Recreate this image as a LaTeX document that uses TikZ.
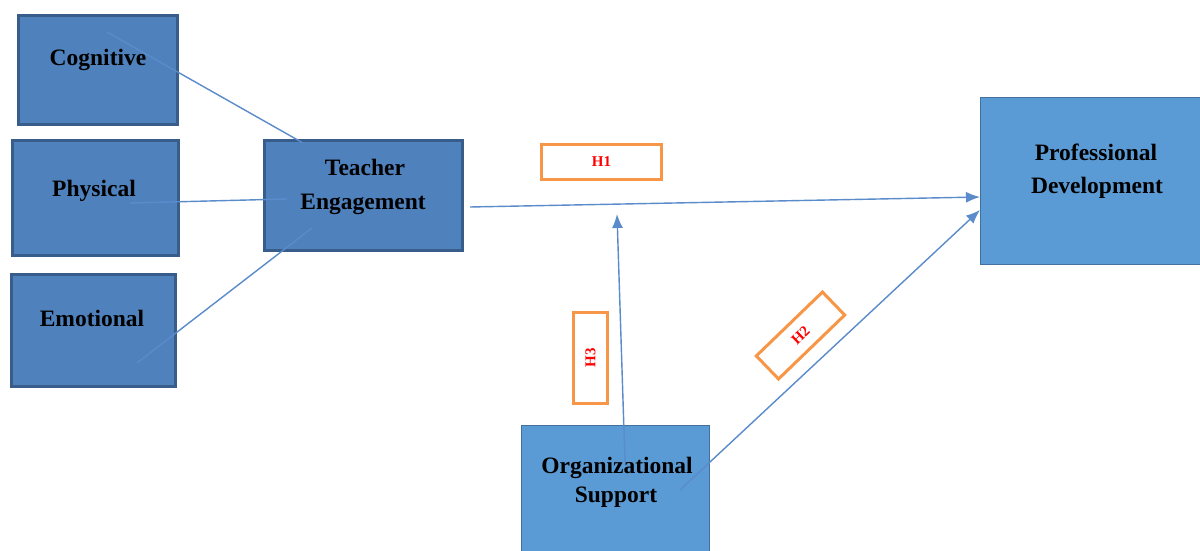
\documentclass[tikz,border=0pt]{standalone}
\usepackage{fontspec}
\setmainfont{Liberation Serif}
\usetikzlibrary{arrows.meta}
\definecolor{darkbox}{HTML}{4F81BD}
\definecolor{darkedge}{HTML}{385D8A}
\definecolor{lightbox}{HTML}{5B9BD5}
\definecolor{lightedge}{HTML}{41719C}
\definecolor{linkcol}{HTML}{5A8BCB}
\definecolor{hypcol}{HTML}{F79646}
\definecolor{hyptext}{HTML}{FF0000}
\begin{document}
\begin{tikzpicture}[x=1pt,y=-1pt,
  dimbox/.style={draw=darkedge, fill=darkbox, line width=3pt, rectangle, inner sep=0pt},
  brightbox/.style={draw=lightedge, fill=lightbox, line width=1pt, rectangle, inner sep=0pt},
  boxtext/.style={anchor=base, inner sep=0pt, font=\fontsize{23.5}{28}\selectfont\bfseries, text=black},
  hypbox/.style={draw=hypcol, fill=white, line width=3pt, rectangle, inner sep=0pt,
    font=\fontsize{15}{17}\selectfont\bfseries, text=hyptext},
  linkline/.style={draw=linkcol, line width=1.4pt},
  linkarrow/.style={draw=linkcol, line width=1.4pt, -{Latex[length=14pt,width=11pt]}}
]
\useasboundingbox (0,0) rectangle (1200,551);
\fill[white] (0,0) rectangle (1200,551);

% boxes
\node[dimbox, minimum width=159pt, minimum height=109pt] (cog) at (98,70) {};
\node[dimbox, minimum width=166pt, minimum height=115pt] (phy) at (95.5,198) {};
\node[dimbox, minimum width=164pt, minimum height=112pt] (emo) at (93.5,330.5) {};
\node[dimbox, minimum width=198pt, minimum height=110pt] (te) at (363.5,195.5) {};
\node[brightbox, minimum width=226pt, minimum height=167pt] (pd) at (1093,181) {};
\node[brightbox, minimum width=188pt, minimum height=132pt] (os) at (615.5,491) {};

% texts
\node[boxtext] (cogt) at (98,66) {Cognitive};
\node[boxtext] (phyt) at (94,196) {Physical};
\node[boxtext] (emot) at (92,326) {Emotional};
\node[boxtext] (tet1) at (365,175) {Teacher};
\node[boxtext] (tet2) at (363,209) {Engagement};
\node[boxtext] (pdt1) at (1096,160) {Professional};
\node[boxtext] (pdt2) at (1097,193) {Development};
\node[boxtext] (ost1) at (617,473) {Organizational};
\node[boxtext] (ost2) at (616,502) {Support};

% connector end points
\coordinate (cogA) at (107,32);
\coordinate (cogB) at (303,143);
\coordinate (phyA) at (130,203);
\coordinate (phyB) at (287,199);
\coordinate (emoA) at (137,363);
\coordinate (emoB) at (312,228);
\coordinate (teA) at (470,207);
\coordinate (pdA) at (980,197);
\coordinate (osA) at (625,462);
\coordinate (mid) at (617,214);
\coordinate (osB) at (680,490);
\coordinate (pdB) at (980,210);

\draw[linkline] (cogA) -- (cogB);
\draw[linkline] (phyA) -- (phyB);
\draw[linkline] (emoA) -- (emoB);
\draw[linkarrow] (teA) -- (pdA);
\draw[linkarrow] (osA) -- (mid);
\draw[linkarrow] (osB) -- (pdB);

% hypothesis boxes
\node[hypbox, minimum width=120pt, minimum height=35pt] (h1) at (601.5,162) {H1};
\node[hypbox, minimum width=91pt, minimum height=34pt, rotate=90] (h3) at (590.5,358) {H3};
\node[hypbox, minimum width=92pt, minimum height=32pt, rotate=44] (h2) at (800.5,335.5) {H2};
\end{tikzpicture}
\end{document}
